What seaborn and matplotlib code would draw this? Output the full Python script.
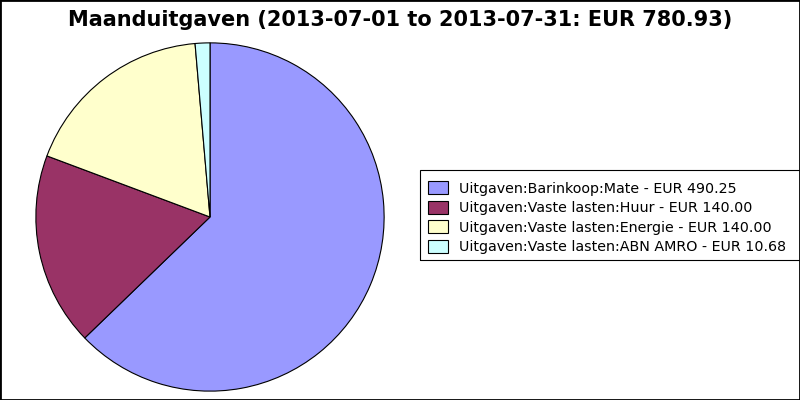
import matplotlib
matplotlib.use("Agg")
import matplotlib.pyplot as plt
import matplotlib.patches as mpatches
import seaborn as sns

categories = ["Uitgaven:Barinkoop:Mate", "Uitgaven:Vaste lasten:Huur",
              "Uitgaven:Vaste lasten:Energie", "Uitgaven:Vaste lasten:ABN AMRO"]
amounts = [490.25, 140.00, 140.00, 10.68]
colors = ["#9999ff", "#993366", "#ffffcc", "#ccffff"]
title = "Maanduitgaven (2013-07-01 to 2013-07-31: EUR 780.93)"

sns.set_theme(style="white")
plt.rcParams['font.family'] = ['DejaVu Sans']
plt.rcParams['text.color'] = 'black'

fig = plt.figure(figsize=(8, 4), dpi=100)
fig.patch.set_facecolor("white")
ax = fig.add_axes([0.04375, 0.02, 0.4375, 0.875])

wedges, _ = ax.pie(amounts, colors=colors, startangle=90, counterclock=False,
                   wedgeprops=dict(edgecolor="black", linewidth=0.8))
ax.set_xlim(-1.005, 1.005)
ax.set_ylim(-1.005, 1.005)
ax.set_aspect("equal")

labels = ["%s - EUR %.2f" % (c, a) for c, a in zip(categories, amounts)]
handles = [mpatches.Patch(facecolor=c, edgecolor="black", linewidth=0.8) for c in colors]
leg = fig.legend(handles, labels, loc="upper left", bbox_to_anchor=(0.525, 0.566),
                 fontsize=10.3, frameon=False,
                 handlelength=1.4, handleheight=1.0, handletextpad=0.8,
                 labelspacing=0.36, borderpad=0.55, borderaxespad=0)
for t in leg.get_texts():
    t.set_color("black")

# legend box runs past the right edge of the image, as in the original
fig.add_artist(mpatches.Rectangle((420 / 800, 140 / 400), 400 / 800, 90 / 400,
                                  transform=fig.transFigure, fill=False,
                                  edgecolor="black", linewidth=0.8))

fig.suptitle(title, fontsize=15, fontweight="bold", y=0.975, color="black")

fig.add_artist(mpatches.Rectangle((0, 0), 1, 1, transform=fig.transFigure,
                                  fill=False, edgecolor="black", linewidth=2))

fig.savefig("out.png", dpi=100)
